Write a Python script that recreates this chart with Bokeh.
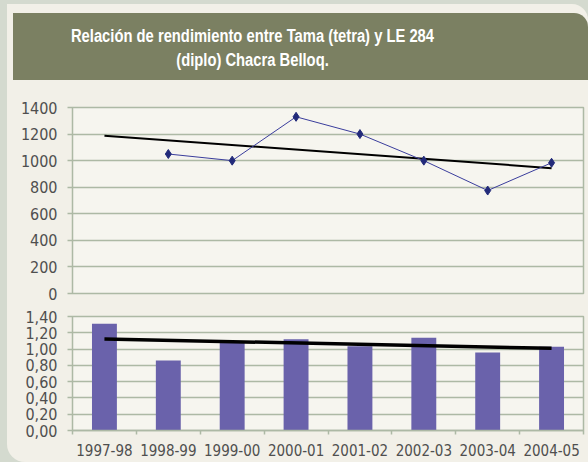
import numpy as np
from bokeh.plotting import figure
from bokeh.layouts import column
from bokeh.models import Div, FixedTicker, CustomJSTickFormatter
from bokeh.embed import file_html
from bokeh.resources import INLINE

# ---------------- data ----------------
title_lines = ["Relación de rendimiento entre Tama (tetra) y LE 284",
               "(diplo) Chacra Belloq."]
seasons = ["1997-98", "1998-99", "1999-00", "2000-01",
           "2001-02", "2002-03", "2003-04", "2004-05"]
yield_values = [np.nan, 1050, 1000, 1330, 1200, 1000, 775, 984]
ratio_values = [1.31, 0.86, 1.08, 1.12, 1.035, 1.14, 0.958, 1.03]
top_ticks = [0, 200, 400, 600, 800, 1000, 1200, 1400]
bottom_ticks = [0.0, 0.2, 0.4, 0.6, 0.8, 1.0, 1.2, 1.4]

# ---------------- styles ----------------
FONT = "DejaVu Sans Condensed"
CREAM = "#f2f0e8"
FRAME = "#f6f5ef"
GRID = "#adb9a5"
LABEL = "#4f4f4f"
OLIVE = "#7b8062"
LINE = "#3a3d9c"
MARK = "#222a7a"
BAR = "#6a62ab"

xs = np.arange(1, len(seasons) + 1)
labels = {int(x): s for x, s in zip(xs, seasons)}


def style(p):
    p.background_fill_color = FRAME
    p.border_fill_alpha = 0
    p.outline_line_color = GRID
    p.outline_line_width = 1.5
    p.xgrid.visible = False
    p.ygrid.grid_line_color = GRID
    p.ygrid.grid_line_width = 1.5
    p.yaxis.axis_line_color = None
    p.yaxis.major_tick_out = 5
    p.yaxis.major_tick_in = 0
    p.yaxis.major_tick_line_color = GRID
    p.yaxis.major_tick_line_width = 1.5
    p.yaxis.minor_tick_line_color = None
    p.yaxis.major_label_standoff = 10
    p.yaxis.major_label_text_font = FONT
    p.yaxis.major_label_text_font_size = "16px"
    p.yaxis.major_label_text_color = LABEL


# ---------------- top: yield line ----------------
p1 = figure(width=581, height=224, x_range=(0.5, 8.5), y_range=(0, 1400),
            output_backend="svg", toolbar_location=None,
            min_border_left=65, min_border_right=5,
            min_border_top=27, min_border_bottom=11)
style(p1)
p1.xaxis.visible = False
p1.yaxis.ticker = FixedTicker(ticks=top_ticks)

yv = np.array(yield_values, dtype=float)
mask = ~np.isnan(yv)
c1 = np.polyfit(xs[mask], yv[mask], 1)
p1.line([xs[0], xs[-1]], np.polyval(c1, [xs[0], xs[-1]]), line_color="black", line_width=2)
p1.line(xs, yv, line_color=LINE, line_width=1)
p1.scatter(xs, yv, marker="diamond", size=9, fill_color=MARK, line_color=MARK)

# ---------------- bottom: ratio bars ----------------
p2 = figure(width=581, height=158, x_range=(0.5, 8.5), y_range=(0, 1.4),
            output_backend="svg", toolbar_location=None,
            min_border_left=65, min_border_right=5,
            min_border_top=12, min_border_bottom=32)
style(p2)
p2.yaxis.ticker = FixedTicker(ticks=bottom_ticks)
p2.yaxis.formatter = CustomJSTickFormatter(code="return tick.toFixed(2).replace('.', ',');")
p2.xaxis.ticker = FixedTicker(ticks=list(xs),
                              minor_ticks=[x - 0.5 for x in xs] + [xs[-1] + 0.5])
p2.xaxis.major_label_overrides = labels
p2.xaxis.major_tick_line_color = None
p2.xaxis.minor_tick_line_color = GRID
p2.xaxis.minor_tick_line_width = 1.5
p2.xaxis.minor_tick_out = 4
p2.xaxis.minor_tick_in = 0
p2.xaxis.axis_line_color = GRID
p2.xaxis.axis_line_width = 1.5
p2.xaxis.major_label_standoff = 7
p2.xaxis.major_label_text_font = FONT
p2.xaxis.major_label_text_font_size = "15px"
p2.xaxis.major_label_text_color = LABEL

p2.vbar(x=xs, top=ratio_values, width=0.39, fill_color=BAR, line_color=None)
rv = np.array(ratio_values, dtype=float)
c2 = np.polyfit(xs, rv, 1)
p2.line([xs[0], xs[-1]], np.polyval(c2, [xs[0], xs[-1]]), line_color="black", line_width=3.5)

# ---------------- title bar ----------------
line_style = ("display:block;width:479px;height:24px;line-height:24px;text-align:center;"
              "white-space:nowrap;transform:scaleX(0.82);transform-origin:50% 50%;")
title_html = (
    '<div style="font-family:\'Liberation Sans\',Arial,sans-serif;font-weight:bold;'
    'font-size:18px;color:#ffffff;margin:0;padding:0;">'
    '<div style="height:11px;"></div>'
    + "".join('<div style="%s">%s</div>' % (line_style, t) for t in title_lines)
    + "</div>"
)
title = Div(text=title_html, width=575, height=67, margin=(9, 0, 0, 6),
            styles={"background-color": OLIVE, "border-top-right-radius": "14px"})

inner = column(title, p1, p2, spacing=0, margin=(4, 0, 0, 7),
               styles={"background-color": CREAM,
                       "border-top-right-radius": "16px",
                       "border-bottom-left-radius": "18px"})
page = column(inner, spacing=0, styles={"background-color": "#d4dacf"})

open("out.html", "w").write(file_html(page, INLINE))
